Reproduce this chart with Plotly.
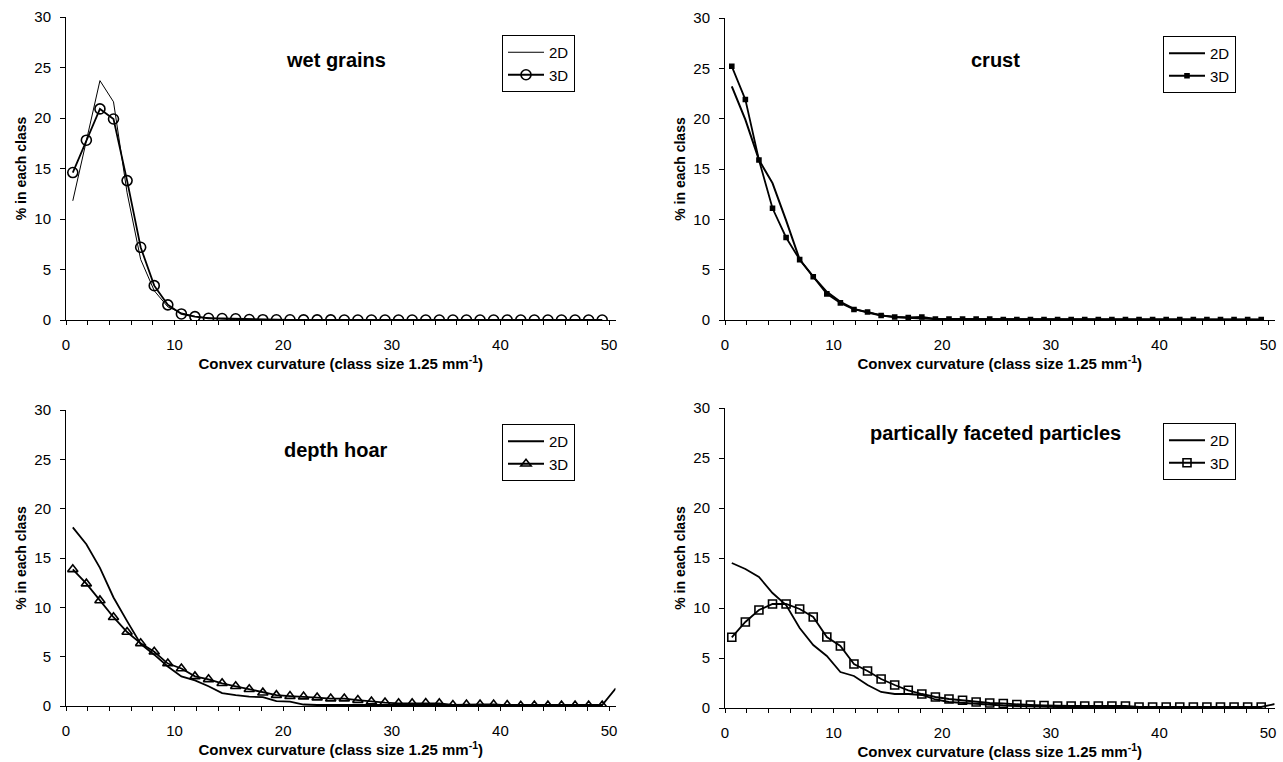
import plotly.graph_objects as go

# class mid-points (class size 1.25 mm^-1)
curvature = [0.625, 1.875, 3.125, 4.375, 5.625, 6.875, 8.125, 9.375, 10.625, 11.875,
             13.125, 14.375, 15.625, 16.875, 18.125, 19.375, 20.625, 21.875, 23.125, 24.375,
             25.625, 26.875, 28.125, 29.375, 30.625, 31.875, 33.125, 34.375, 35.625, 36.875,
             38.125, 39.375, 40.625, 41.875, 43.125, 44.375, 45.625, 46.875, 48.125, 49.375,
             50.625]

wet_2d = [11.8, 17.9, 23.7, 21.6, 12.6, 6.0, 2.9, 1.3, 0.7, 0.35,
          0.2, 0.1, 0.05, 0.03, 0.02, 0.01, 0.01, 0.0, 0.0, 0.0,
          0.0, 0.0, 0.0, 0.0, 0.0, 0.0, 0.0, 0.0, 0.0, 0.0,
          0.0, 0.0, 0.0, 0.0, 0.0, 0.0, 0.0, 0.0, 0.0, 0.0]
wet_3d = [14.6, 17.8, 20.9, 19.9, 13.8, 7.2, 3.4, 1.5, 0.6, 0.33,
          0.17, 0.15, 0.12, 0.05, 0.03, 0.02, 0.02, 0.01, 0.01, 0.01,
          0.0, 0.0, 0.0, 0.0, 0.0, 0.0, 0.0, 0.0, 0.0, 0.0,
          0.0, 0.0, 0.0, 0.0, 0.0, 0.0, 0.0, 0.0, 0.0, 0.0]

crust_2d = [23.2, 19.9, 15.9, 13.6, 9.9, 6.0, 4.3, 2.8, 1.8, 1.1,
            0.75, 0.45, 0.3, 0.2, 0.15, 0.1, 0.1, 0.08, 0.05, 0.05,
            0.03, 0.03, 0.03, 0.03, 0.03, 0.03, 0.03, 0.03, 0.03, 0.03,
            0.03, 0.03, 0.03, 0.03, 0.03, 0.03, 0.03, 0.03, 0.03, 0.03]
crust_3d = [25.2, 21.9, 15.9, 11.1, 8.2, 6.0, 4.3, 2.6, 1.7, 1.05,
            0.8, 0.45, 0.3, 0.25, 0.3, 0.1, 0.1, 0.1, 0.1, 0.1,
            0.05, 0.05, 0.05, 0.05, 0.05, 0.05, 0.05, 0.05, 0.05, 0.05,
            0.05, 0.05, 0.05, 0.05, 0.05, 0.05, 0.05, 0.05, 0.05, 0.05]

depth_2d = [18.1, 16.4, 14.0, 11.0, 8.6, 6.3, 5.2, 4.0, 3.0, 2.6,
            2.0, 1.3, 1.1, 0.95, 0.9, 0.5, 0.45, 0.15, 0.1, 0.1,
            0.1, 0.05, 0.05, 0.05, 0.05, 0.05, 0.05, 0.05, 0.05, 0.05,
            0.05, 0.05, 0.05, 0.05, 0.05, 0.05, 0.05, 0.05, 0.05, 0.1,
            1.8]
depth_3d = [13.85, 12.4, 10.7, 9.0, 7.5, 6.35, 5.5, 4.3, 3.8, 3.0,
            2.7, 2.3, 2.0, 1.7, 1.35, 1.1, 1.0, 0.95, 0.85, 0.75,
            0.75, 0.6, 0.45, 0.35, 0.27, 0.27, 0.3, 0.27, 0.1, 0.15,
            0.15, 0.15, 0.1, 0.02, 0.05, 0.05, 0.05, 0.05, 0.05, 0.05]

partial_2d = [14.5, 13.9, 13.1, 11.5, 10.3, 8.0, 6.3, 5.2, 3.6, 3.2,
              2.3, 1.6, 1.4, 1.4, 1.3, 0.85, 0.6, 0.5, 0.4, 0.3,
              0.25, 0.2, 0.15, 0.1, 0.1, 0.1, 0.1, 0.1, 0.1, 0.1,
              0.1, 0.1, 0.1, 0.1, 0.1, 0.1, 0.1, 0.1, 0.1, 0.1,
              0.4]
partial_3d = [7.07, 8.6, 9.8, 10.4, 10.4, 9.9, 9.1, 7.1, 6.2, 4.4,
              3.7, 2.9, 2.3, 1.77, 1.4, 1.1, 0.9, 0.77, 0.6, 0.5,
              0.45, 0.35, 0.3, 0.25, 0.2, 0.2, 0.2, 0.2, 0.2, 0.2,
              0.1, 0.1, 0.1, 0.1, 0.1, 0.1, 0.1, 0.1, 0.1, 0.1]

titles = ["wet grains", "crust", "depth hoar", "partically faceted particles"]
series_names = ["2D", "3D"]
x_ticks = [0, 10, 20, 30, 40, 50]
y_ticks = [0, 5, 10, 15, 20, 25, 30]

W, H = 1283, 762
FONT = "Arial, 'Liberation Sans', Helvetica, sans-serif"


def px_x(p):
    return p / W


def px_y(p):
    return 1 - p / H


panels = [
    dict(d2=wet_2d, d3=wet_3d, sym="circle-open", ms=10, lw2=1.0,
         x0=66, yb=320, yt=17, leg=(502, 35), tit=(336, 60)),
    dict(d2=crust_2d, d3=crust_3d, sym="square", ms=4, lw2=2.0,
         x0=725, yb=320, yt=18, leg=(1163, 36), tit=(995, 60)),
    dict(d2=depth_2d, d3=depth_3d, sym="triangle-up-open", ms=9, lw2=1.8,
         x0=66, yb=706, yt=410, leg=(502, 424), tit=(336, 450)),
    dict(d2=partial_2d, d3=partial_3d, sym="square-open", ms=8, lw2=1.8,
         x0=725, yb=708, yt=408, leg=(1163, 423), tit=(995, 433)),
]

X_MAX = 50.6
PX_PER_UNIT = 10.86

fig = go.Figure()
annotations = []
layout = {}
for i, p in enumerate(panels):
    n = "" if i == 0 else str(i + 1)
    leg = "legend" + n
    xa = "x" + n
    ya = "y" + n
    fig.add_trace(go.Scatter(
        x=curvature[:len(p["d2"])], y=p["d2"], mode="lines", name=series_names[0],
        line=dict(color="black", width=p["lw2"]), xaxis=xa, yaxis=ya,
        legend=leg, legendgroup=f"g2_{i}", cliponaxis=True))
    fig.add_trace(go.Scatter(
        x=curvature[:len(p["d3"])], y=p["d3"], mode="lines+markers", name=series_names[1],
        line=dict(color="black", width=1.8),
        marker=dict(symbol=p["sym"], size=p["ms"], color="black",
                    line=dict(color="black", width=1.6)),
        xaxis=xa, yaxis=ya, legend=leg, legendgroup=f"g3_{i}", cliponaxis=True))

    x1 = p["x0"] + X_MAX * PX_PER_UNIT
    layout["xaxis" + n] = dict(
        domain=[px_x(p["x0"]), px_x(x1)], anchor=ya, range=[0, X_MAX],
        tickvals=x_ticks, ticks="outside", ticklen=4, tickwidth=1, tickcolor="black",
        minor=dict(dtick=2, tick0=0, ticks="outside", ticklen=4, tickcolor="black"),
        showline=True, linecolor="black", linewidth=1, showgrid=False, zeroline=False,
        tickfont=dict(family=FONT, size=15, color="black"), ticklabelstandoff=7,
        title=dict(text="<b>Convex curvature (class size 1.25 mm<sup>-1</sup>)</b>",
                   font=dict(family=FONT, size=15, color="black"), standoff=5),
        automargin=False)
    layout["yaxis" + n] = dict(
        domain=[px_y(p["yb"]), px_y(p["yt"])], anchor=xa, range=[0, 30],
        tickvals=y_ticks, ticks="outside", ticklen=5, tickwidth=1, tickcolor="black",
        showline=True, linecolor="black", linewidth=1, showgrid=False, zeroline=False,
        tickfont=dict(family=FONT, size=15, color="black"), ticklabelstandoff=6,
        title=dict(text="<b>% in each class</b>",
                   font=dict(family=FONT, size=14, color="black"), standoff=4),
        automargin=False)
    layout[leg] = dict(
        x=px_x(p["leg"][0]), y=px_y(p["leg"][1]), xanchor="left", yanchor="top",
        bordercolor="black", borderwidth=1, bgcolor="white",
        font=dict(family=FONT, size=15, color="black"),
        tracegroupgap=4, itemwidth=36, traceorder="normal")
    annotations.append(dict(
        text=f"<b>{titles[i]}</b>", x=px_x(p["tit"][0]), y=px_y(p["tit"][1]),
        xref="paper", yref="paper", xanchor="center", yanchor="middle",
        showarrow=False, font=dict(family=FONT, size=20, color="black")))

fig.update_layout(
    width=W, height=H, margin=dict(l=0, r=0, t=0, b=0),
    paper_bgcolor="white", plot_bgcolor="white",
    annotations=annotations, showlegend=True, **layout)

fig.write_html("out.html", config={"displayModeBar": False},
               post_script="document.body.style.margin='0';document.body.style.overflow='hidden';")
